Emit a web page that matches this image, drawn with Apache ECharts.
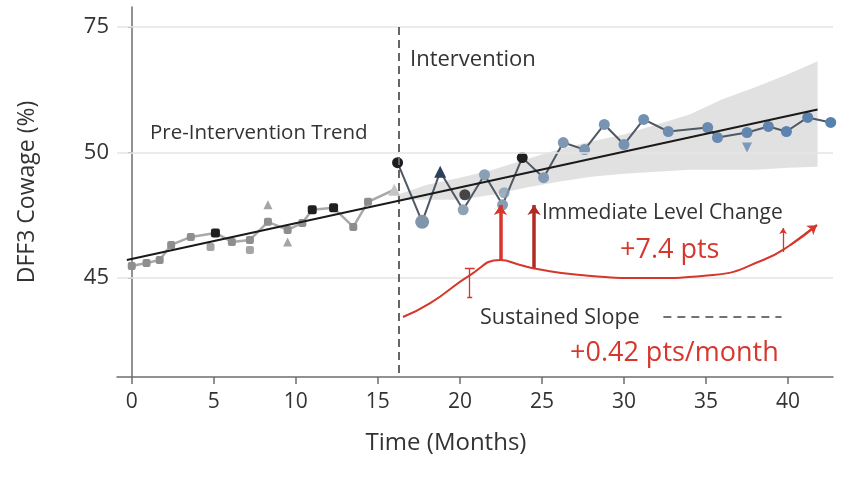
<!DOCTYPE html>
<html><head><meta charset="utf-8">
<script src="https://cdn.jsdelivr.net/npm/echarts@6/dist/echarts.min.js"></script>
<style>html,body{margin:0;padding:0;background:#fff}#c{width:848px;height:497px}</style>
</head><body><div id="c"></div>
<script>
// ---- data ----
const xTicks = [0, 5, 10, 15, 20, 25, 30, 35, 40];
const yTickValues = [45, 50, 55];
const yTickLabels = ['45', '50', '75'];

const preT = [0.0, 0.9, 1.7, 2.4, 3.6, 5.1, 6.1, 7.2, 8.3, 9.5, 10.4, 11.0, 12.3, 13.5, 14.4, 16.0];
const preV = [45.48, 45.6, 45.72, 46.32, 46.64, 46.8, 46.44, 46.52, 47.24, 46.92, 47.2, 47.72, 47.8, 47.04, 48.04, 48.52];
const preGroup = ['g','g','g','g','g','k','g','g','g','g','g','k','k','g','g','t'];
const preExtraT = [4.8, 7.2, 8.3, 9.5];
const preExtraV = [46.24, 46.12, 47.92, 46.44];
const preExtraGroup = ['g','g','tu','tu'];

const postT = [16.2, 17.7, 18.8, 20.2, 21.5, 22.6, 23.8, 25.1, 26.3, 27.6, 28.8, 30.0, 31.2, 32.7, 35.1, 35.7, 37.5, 38.8, 39.9, 41.2, 42.6];
const postV = [49.6, 47.24, 49.24, 47.72, 49.12, 47.92, 49.8, 49.0, 50.4, 50.12, 51.12, 50.32, 51.32, 50.84, 51.0, 50.6, 50.8, 51.04, 50.84, 51.4, 51.2];
const postGroup = ['k','B','n','b','b','b','k','b','b','b','b','b','b','b','b','b','b','b','b','b','b'];
const postExtraT = [20.3, 22.7, 37.5];
const postExtraV = [48.32, 48.4, 50.2];
const postExtraGroup = ['k','b','v'];

const trendT = [-0.3, 41.8];
const trendV = [45.72, 51.72];
const interventionT = 16.3;

const bandT =    [16.2, 18, 20, 22, 24, 26, 28, 30, 32, 34, 36, 38, 40, 41.8];
const bandHigh = [48.32, 48.72, 49.0, 49.32, 49.72, 50.12, 50.44, 50.72, 51.12, 51.52, 52.12, 52.6, 53.12, 53.64];
const bandLow =  [48.12, 48.12, 48.12, 48.32, 48.6, 48.84, 49.04, 49.16, 49.24, 49.32, 49.32, 49.32, 49.4, 49.44];

const redCurveT = [16.53, 18.19, 20.62, 22.45, 23.67, 24.71, 27.33, 31.4, 35.43, 38.48, 40.12, 41.76];
const redCurveV = [43.45, 44.0, 45.12, 45.72, 45.52, 45.36, 45.12, 45.0, 45.12, 45.72, 46.31, 47.11];
const levelArrowT = [22.47, 24.52];
const levelArrowFrom = [45.72, 45.4];
const levelArrowTo = [47.91, 47.91];
const errBarT = 20.6, errBarLo = 44.24, errBarHi = 45.4;
const smallArrowT = 39.7, smallArrowLo = 46.04, smallArrowHi = 47.0;
const slopeDashT = [32.4, 39.6];
const slopeDashV = [43.45, 43.45];

// ---- helpers ----
const FONT = '"Open Sans", "Noto Sans", sans-serif';
function lerpBlue(t){
  const a=[150,166,182], b=[86,128,174];
  const k=Math.max(0,Math.min(1,(t-17)/25));
  const c=a.map((v,i)=>Math.round(v+(b[i]-v)*k));
  return 'rgb('+c.join(',')+')';
}
const preStyle = {
  g:{symbol:'roundRect', size:8, color:'#8e8e8e'},
  k:{symbol:'roundRect', size:9, color:'#1f1f1f'},
  t:{symbol:'triangle', size:12, color:'#c4c4c4'},
  tu:{symbol:'triangle', size:9, color:'#8e8e8e'}
};
function postItem(t,v,g){
  let s={symbol:'circle', size:11, color:lerpBlue(t)};
  if(g==='k') s={symbol:'circle', size:11, color:'#1e1e1e'};
  if(g==='B') s={symbol:'circle', size:14, color:'#8195ab'};
  if(g==='n') s={symbol:'triangle', size:12, color:'#2c3f5c'};
  if(g==='v') s={symbol:'triangle', size:10, color:lerpBlue(t), rotate:180};
  return {value:[t,v], symbol:s.symbol, symbolSize:s.size, symbolRotate:s.rotate||0, itemStyle:{color:s.color}};
}
function preItem(t,v,g){
  const s=preStyle[g];
  return {value:[t,v], symbol:s.symbol, symbolSize:s.size, itemStyle:{color:s.color}};
}
const zip=(a,b)=>a.map((x,i)=>[x,b[i]]);

const red='#d6372d';
const chart = echarts.init(document.getElementById('c'));
chart.setOption({
  animation:false,
  backgroundColor:'#fff',
  grid:{left:117, right:15, top:7, bottom:120},
  xAxis:{
    type:'value', min:-0.9, max:42.74,
    name:'Time (Months)', nameLocation:'middle', nameGap:54,
    nameTextStyle:{fontFamily:FONT, fontSize:24, color:'#333', padding:[0,58,0,0]},
    axisLine:{show:true, lineStyle:{color:'#6e6e6e', width:1.5}},
    axisTick:{show:true, customValues:xTicks, length:7, lineStyle:{color:'#6e6e6e', width:1.5}},
    axisLabel:{customValues:xTicks, fontFamily:FONT, fontSize:21, color:'#333', margin:15},
    splitLine:{show:false}
  },
  yAxis:{
    type:'value', min:41.06, max:55.8,
    name:'DFF3 Cowage (%)', nameLocation:'middle', nameGap:78,
    nameTextStyle:{fontFamily:FONT, fontSize:23, color:'#333'},
    axisLine:{show:true, lineStyle:{color:'#6e6e6e', width:1.5}},
    axisTick:{show:true, customValues:yTickValues, length:4, lineStyle:{color:'#6e6e6e'}},
    axisLabel:{customValues:yTickValues, fontFamily:FONT, fontSize:22, color:'#333', margin:8,
      formatter:v=>yTickLabels[yTickValues.indexOf(v)] ?? ''},
    splitLine:{show:false}
  },
  series:[
    {
      type:'custom', z:1, silent:true,
      data:[[bandT[0], bandLow[0]]],
      renderItem:function(params, api){
        const pts=[];
        for(let i=0;i<bandT.length;i++) pts.push(api.coord([bandT[i], bandHigh[i]]));
        for(let i=bandT.length-1;i>=0;i--) pts.push(api.coord([bandT[i], bandLow[i]]));
        return {type:'polygon', shape:{points:pts}, style:{fill:'#d9d9d9', opacity:0.8}};
      },
      markLine:{silent:true, symbol:'none', label:{show:false},
        lineStyle:{color:'#e4e4e4', width:1.5, type:'solid'},
        data:yTickValues.map(v=>({yAxis:v}))}
    },
    {
      type:'line', z:3, data:preT.map((t,i)=>preItem(t,preV[i],preGroup[i])),
      lineStyle:{color:'#a9a9a9', width:2.5}, showAllSymbol:true
    },
    {
      type:'scatter', z:3, data:preExtraT.map((t,i)=>preItem(t,preExtraV[i],preExtraGroup[i]))
    },
    {
      type:'line', z:3, data:postT.map((t,i)=>postItem(t,postV[i],postGroup[i])),
      lineStyle:{color:'#4f5863', width:2}, showAllSymbol:true
    },
    {
      type:'scatter', z:3, data:postExtraT.map((t,i)=>postItem(t,postExtraV[i],postExtraGroup[i]))
    },
    {
      type:'line', z:5, data:zip(trendT,trendV), symbol:'none',
      lineStyle:{color:'#1a1a1a', width:2},
      markLine:{silent:true, symbol:'none', label:{show:false},
        lineStyle:{color:'#666', width:2, type:[8,5]},
        data:[[{coord:[interventionT,55]},{coord:[interventionT,41.06]}]]}
    },
    {
      type:'line', z:6, data:zip(redCurveT,redCurveV), symbol:'none', smooth:0.5,
      lineStyle:{color:red, width:2}
    },
    {
      type:'lines', coordinateSystem:'cartesian2d', z:6,
      symbol:['none','arrow'], symbolSize:9,
      lineStyle:{color:red, width:2, opacity:1},
      data:[{coords:[[redCurveT[redCurveT.length-2],redCurveV[redCurveV.length-2]],[redCurveT[redCurveT.length-1],redCurveV[redCurveV.length-1]]]}]
    },
    {
      type:'lines', coordinateSystem:'cartesian2d', z:6,
      symbol:['none','arrow'], symbolSize:10,
      lineStyle:{width:3.5, opacity:1},
      data:levelArrowT.map((t,i)=>({coords:[[t,levelArrowFrom[i]],[t,levelArrowTo[i]]],
        lineStyle:{color:i===0?'#d8352b':'#b02a22'}}))
    },
    {
      type:'lines', coordinateSystem:'cartesian2d', z:6, symbol:'none',
      lineStyle:{color:red, width:1.3, opacity:1},
      data:[
        {coords:[[errBarT,errBarLo],[errBarT,errBarHi]]},
        {coords:[[errBarT-0.3,errBarHi],[errBarT+0.3,errBarHi]]},
        {coords:[[errBarT-0.15,errBarLo],[errBarT+0.15,errBarLo]]}
      ]
    },
    {
      type:'lines', coordinateSystem:'cartesian2d', z:6,
      symbol:['none','arrow'], symbolSize:6,
      lineStyle:{color:red, width:1.3, opacity:1},
      data:[{coords:[[smallArrowT,smallArrowLo],[smallArrowT,smallArrowHi]]}]
    },
    {
      type:'line', z:6, data:zip(slopeDashT,slopeDashV), symbol:'none',
      lineStyle:{color:'#444', width:1.5, type:[8,6]}
    }
  ],
  graphic:[
    {type:'text', x:150, y:133, z:10, style:{text:'Pre-Intervention Trend', font:'20.5px '+FONT, fill:'#333', verticalAlign:'middle'}},
    {type:'text', x:410, y:60, z:10, style:{text:'Intervention', font:'22px '+FONT, fill:'#333', verticalAlign:'middle'}},
    {type:'text', x:542, y:213, z:10, style:{text:'Immediate Level Change', font:'21px '+FONT, fill:'#333', verticalAlign:'middle'}},
    {type:'text', x:620, y:250, z:10, style:{text:'+7.4 pts', font:'500 27px '+FONT, fill:red, verticalAlign:'middle'}},
    {type:'text', x:480, y:318, z:10, style:{text:'Sustained Slope', font:'21.5px '+FONT, fill:'#333', verticalAlign:'middle'}},
    {type:'text', x:570, y:353, z:10, style:{text:'+0.42 pts/month', font:'500 27px '+FONT, fill:red, verticalAlign:'middle'}}
  ]
});
</script></body></html>
